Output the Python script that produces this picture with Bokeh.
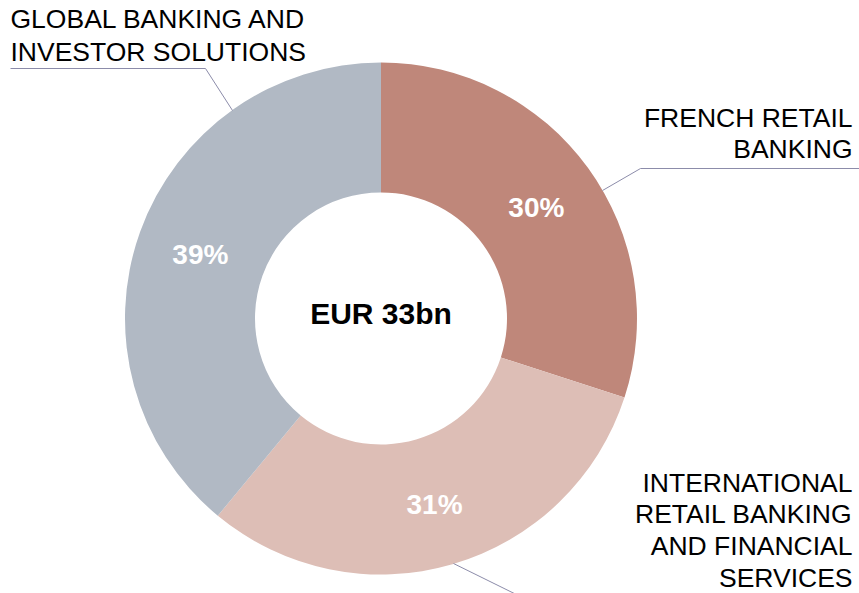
import math
from bokeh.plotting import figure
from bokeh.models import Range1d, ColumnDataSource
from bokeh.core.properties import value
from bokeh.embed import file_html
from bokeh.resources import INLINE

# ---- data ----
segments = ["FRENCH RETAIL BANKING",
            "INTERNATIONAL RETAIL BANKING AND FINANCIAL SERVICES",
            "GLOBAL BANKING AND INVESTOR SOLUTIONS"]
shares = [30, 31, 39]
pct_labels = ["30%", "31%", "39%"]
colors = ["#BF877A", "#DDBEB6", "#B1B9C4"]
total_label = "EUR 33bn"

W, H = 859, 593


def Y(img_y):
    # page pixel row -> data y
    return H - img_y


p = figure(width=W, height=H, output_backend="svg", toolbar_location=None,
           x_range=Range1d(0, W), y_range=Range1d(0, H),
           min_border=0)
p.axis.visible = False
p.grid.visible = False
p.outline_line_color = None
p.background_fill_color = "white"
p.border_fill_color = "white"

cx, cy = 380.5, Y(318)
r_in, r_out = 126, 256

total = sum(shares)
starts, ends, mids = [], [], []
cum = 0
for s in shares:
    a0 = math.pi / 2 - 2 * math.pi * cum / total
    cum += s
    a1 = math.pi / 2 - 2 * math.pi * cum / total
    starts.append(a0)
    ends.append(a1)
    mids.append((a0 + a1) / 2)

src = ColumnDataSource(dict(x=[cx] * 3, y=[cy] * 3, start=starts, end=ends,
                            color=colors, seg=segments))
p.annular_wedge(x="x", y="y", inner_radius=r_in, outer_radius=r_out,
                start_angle="start", end_angle="end", direction="clock",
                fill_color="color", line_color=None, source=src)

# percentage labels at mid-ring
r_lab = 192
lx = [cx + r_lab * math.cos(m) for m in mids]
ly = [cy + r_lab * math.sin(m) - 1.5 for m in mids]
p.text(x=lx, y=ly, text=pct_labels, text_color="white",
       text_font=value("Liberation Sans"), text_font_style="bold",
       text_font_size="28px", text_align="center", text_baseline="middle")

# centre label
p.text(x=[cx], y=[Y(313)], text=[total_label], text_color="black",
       text_font=value("Liberation Sans"), text_font_style="bold",
       text_font_size="30px", text_align="center", text_baseline="middle")

# leader lines
lead = "#8C8CAA"
p.line(x=[10, 205, 232], y=[Y(68), Y(68), Y(110)], line_color=lead, line_width=1)
p.line(x=[602, 640, 859], y=[Y(190), Y(168), Y(168)], line_color=lead, line_width=1)
p.line(x=[453, 528], y=[Y(563), Y(600)], line_color=lead, line_width=1)

font = value("Liberation Sans")
fs = "26.5px"
dy = 10  # baseline correction
# Global banking label (left aligned)
p.text(x=[10, 10], y=[Y(28.5 - dy), Y(61 - dy)],
       text=["GLOBAL BANKING AND", "INVESTOR SOLUTIONS"],
       text_font=font, text_font_size=fs, text_color="black",
       text_align="left", text_baseline="alphabetic")
# French retail label (right aligned)
p.text(x=[852, 852], y=[Y(127 - dy), Y(158 - dy)],
       text=["FRENCH RETAIL", "BANKING"],
       text_font=font, text_font_size=fs, text_color="black",
       text_align="right", text_baseline="alphabetic")
# International label (right aligned)
p.text(x=[852] * 4, y=[Y(492 - dy), Y(523.5 - dy), Y(555 - dy), Y(587 - dy)],
       text=["INTERNATIONAL", "RETAIL BANKING", "AND FINANCIAL", "SERVICES"],
       text_font=font, text_font_size=fs, text_color="black",
       text_align="right", text_baseline="alphabetic")

open("out.html", "w").write(file_html(p, INLINE))
